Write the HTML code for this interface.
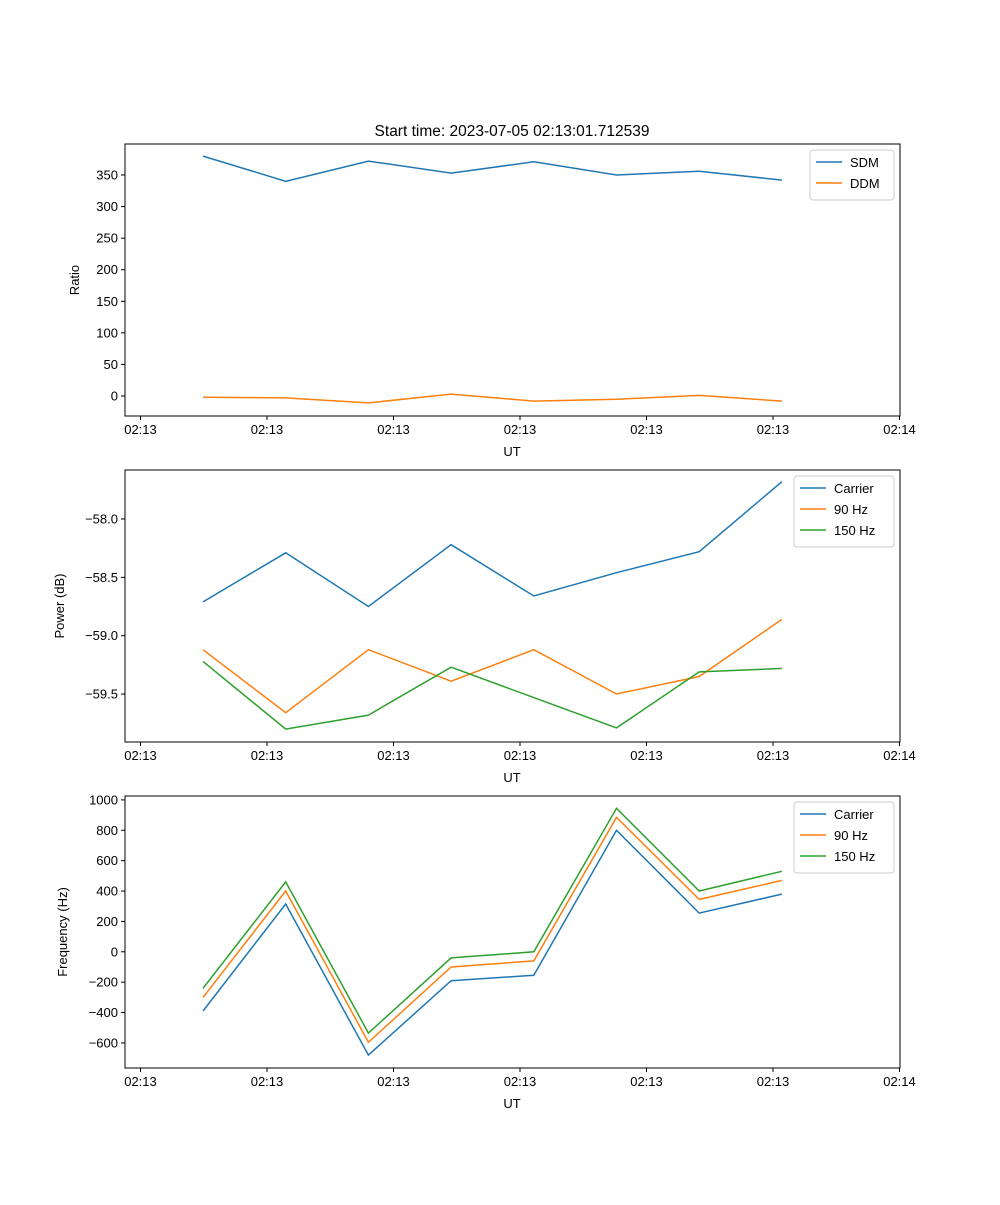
<!DOCTYPE html>
<html><head><meta charset="utf-8"><style>
body{margin:0;background:#fff}
svg{font-family:"Liberation Sans","DejaVu Sans",sans-serif}
</style></head><body>
<svg id="c" width="1000" height="1200" xmlns="http://www.w3.org/2000/svg"></svg>
<script>
const times=[0,1,2,3,4,5,6,7];
const xTickLabels=["02:13","02:13","02:13","02:13","02:13","02:13","02:14"];
const sdm=[380,340,372,353,371,350,356,342];
const ddm=[-2,-3,-11,3,-8,-5,1,-8];
const pCarrier=[-58.71,-58.29,-58.75,-58.22,-58.66,-58.46,-58.28,-57.68];
const p90=[-59.12,-59.66,-59.12,-59.39,-59.12,-59.5,-59.35,-58.86];
const p150=[-59.22,-59.80,-59.68,-59.27,-59.53,-59.79,-59.31,-59.28];
const fCarrier=[-390,315,-680,-190,-155,800,255,380];
const f90=[-300,400,-595,-100,-60,885,345,470];
const f150=[-240,460,-535,-40,0,945,400,530];
const ratioTicks=[0,50,100,150,200,250,300,350];
const powerTicks=[-58.0,-58.5,-59.0,-59.5];
const freqTicks=[-600,-400,-200,0,200,400,600,800,1000];
const C=["#1f77b4","#ff7f0e","#2ca02c"];
const svg=document.getElementById('c');
const NS="http://www.w3.org/2000/svg";
function el(t,a,p){const e=document.createElementNS(NS,t);for(const k in a)e.setAttribute(k,a[k]);(p||svg).appendChild(e);return e;}
const L=125,R=900;
function xs(i){return 203+i*82.7;}
function xTick(i){return 140.5+i*126.5;}
function panel(name,top,bot,yMap,ticks,fmt,ylabel,ylx,series,legendW){
  const g=el('g',{});
  
  
  series.forEach((s,k)=>{
    const pts=s.v.map((v,i)=>xs(times[i]).toFixed(1)+","+yMap(v).toFixed(1)).join(" ");
    const pl=el('polyline',{points:pts,fill:'none',stroke:s.c,'stroke-width':1.5},g);
    
    
  });
  el('rect',{x:L,y:top,width:R-L,height:bot-top,fill:'none',stroke:'#000','stroke-width':1},g);
  xTickLabels.forEach((t,i)=>{
    const x=xTick(i);
    el('line',{x1:x,x2:x,y1:bot,y2:bot+4,stroke:'#000'},g);
    const tx=el('text',{x:x,y:bot+18,'font-size':13,'text-anchor':'middle'},g);tx.textContent=t;
    
    
  });
  const xl=el('text',{x:512,y:bot+40,'font-size':13,'text-anchor':'middle'},g);xl.textContent='UT';
  
  
  ticks.forEach(t=>{
    const y=yMap(t);
    el('line',{x1:L-4,x2:L,y1:y,y2:y,stroke:'#000'},g);
    const tx=el('text',{x:L-7,y:y+4.5,'font-size':13,'text-anchor':'end'},g);tx.textContent=fmt(t);
    
    
  });
  const yl=el('text',{x:ylx,y:(top+bot)/2,'font-size':13,'text-anchor':'middle',transform:`rotate(-90 ${ylx} ${(top+bot)/2})`},g);yl.textContent=ylabel;
  
  
  const lg=el('g',{},g);
  
  
  const lx=R-6-legendW,ly=top+6,h=8+series.length*21;
  el('rect',{x:lx,y:ly,width:legendW,height:h,fill:'#fff',stroke:'#ccc',rx:3},lg);
  series.forEach((s,k)=>{
    const y=ly+12+k*21;
    el('line',{x1:lx+6,x2:lx+32,y1:y,y2:y,stroke:s.c,'stroke-width':1.5},lg);
    const tx=el('text',{x:lx+40,y:y+5,'font-size':13},lg);tx.textContent=s.n;
    
    
  });
}
const tt=el('text',{x:512,y:136,'font-size':15.5,'text-anchor':'middle'});tt.textContent='Start time: 2023-07-05 02:13:01.712539';


panel('ratio-panel',144,416,v=>396-v*0.6314,ratioTicks,t=>String(t),'Ratio',79,[{n:'SDM',v:sdm,c:C[0]},{n:'DDM',v:ddm,c:C[1]}],84);
panel('power-panel',470,742,v=>519+(-58.0-v)*116.7,powerTicks,t=>t.toFixed(1).replace('-','\u2212'),'Power (dB)',64,[{n:'Carrier',v:pCarrier,c:C[0]},{n:'90 Hz',v:p90,c:C[1]},{n:'150 Hz',v:p150,c:C[2]}],100);
panel('frequency-panel',796,1068,v=>951.8-v*0.1519,freqTicks,t=>String(t).replace('-','\u2212'),'Frequency (Hz)',67,[{n:'Carrier',v:fCarrier,c:C[0]},{n:'90 Hz',v:f90,c:C[1]},{n:'150 Hz',v:f150,c:C[2]}],100);
</script>
</body></html>
